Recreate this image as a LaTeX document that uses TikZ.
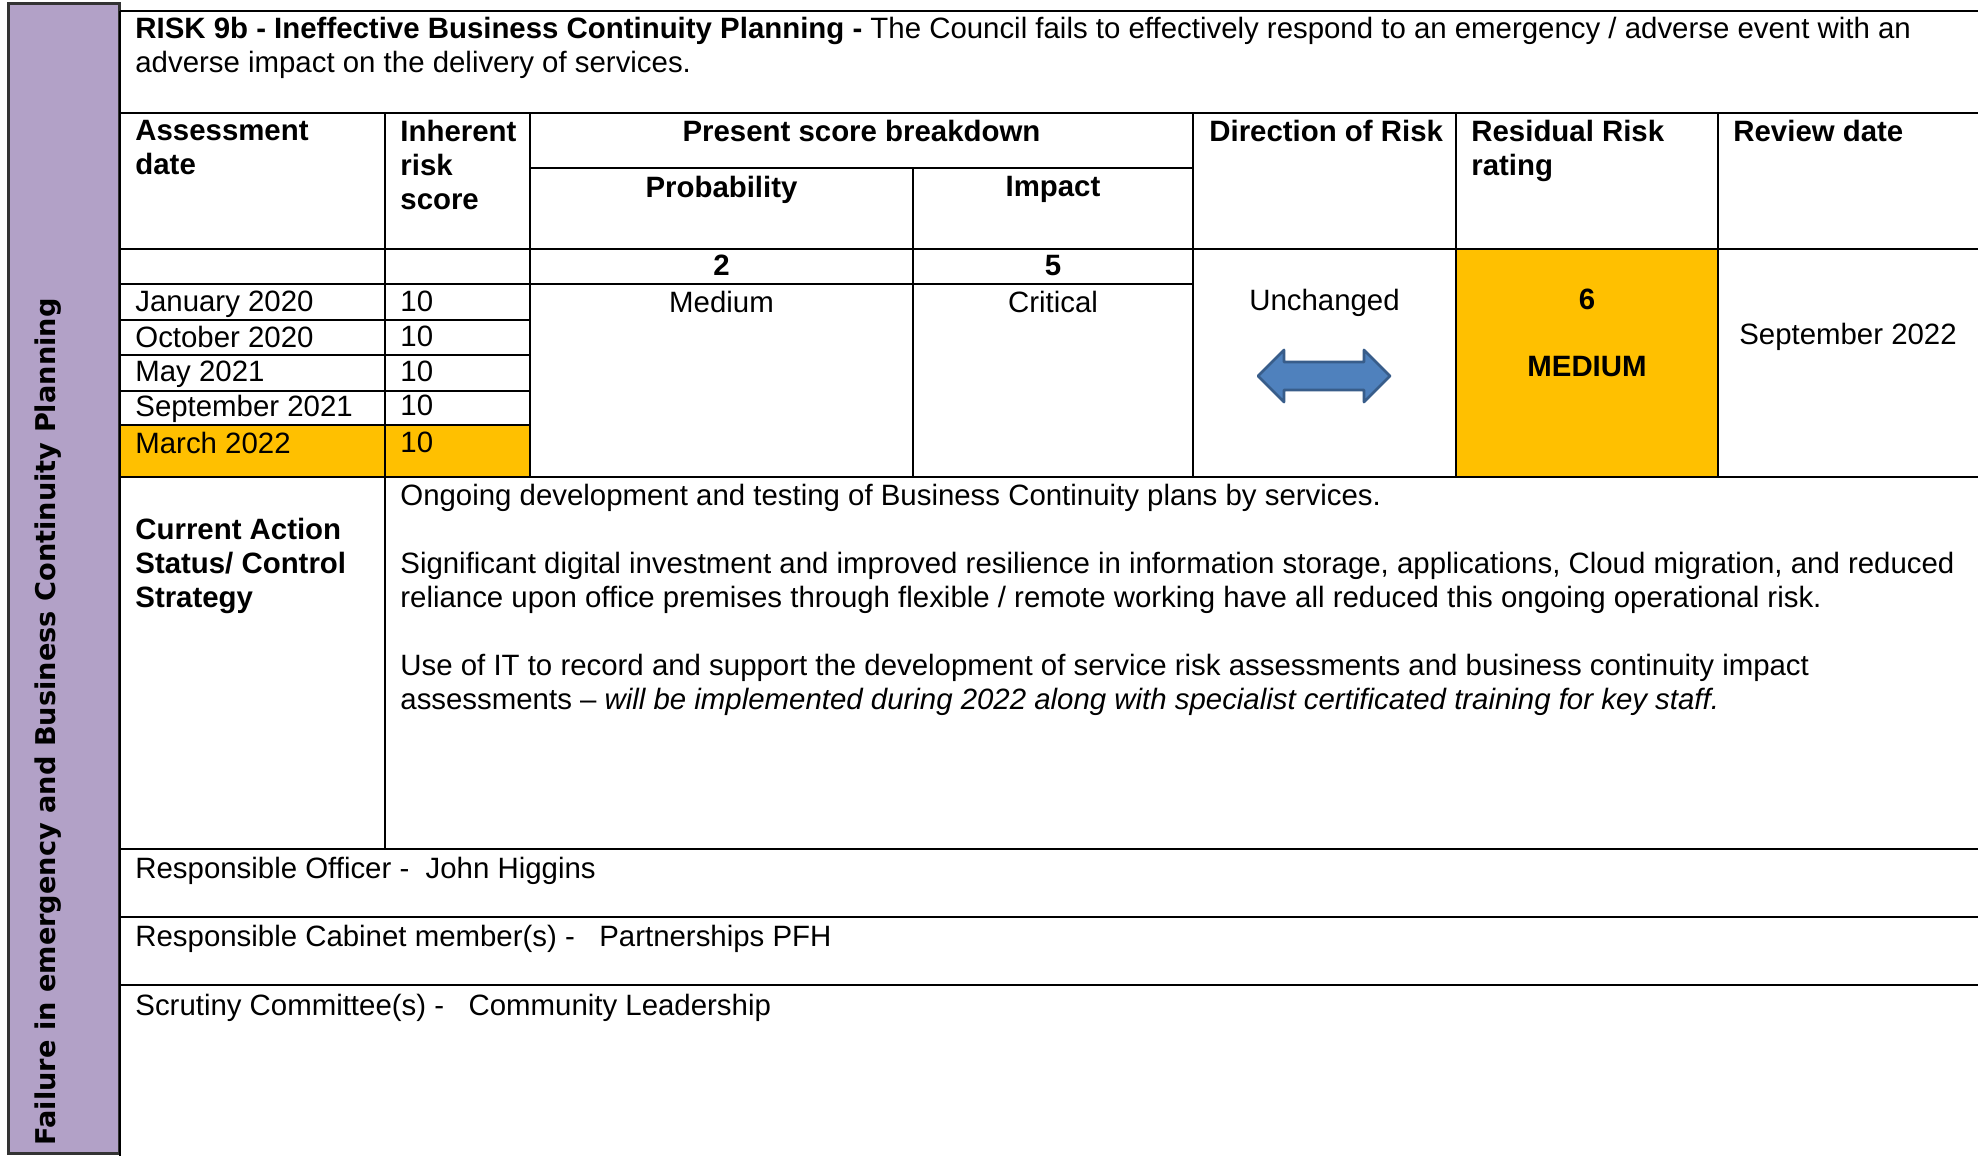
\documentclass[tikz,border=0pt]{standalone}
\usepackage{fontspec}
\setmainfont{Liberation Sans}
\newfontfamily\sidefont{DejaVu Sans}
\usetikzlibrary{shapes,arrows}
\definecolor{barpurple}{HTML}{B2A1C7}
\definecolor{ragamber}{HTML}{FFC000}
\definecolor{arrowblue}{HTML}{4F81BD}
\definecolor{arrowedge}{HTML}{385D8A}
\tikzstyle{txt} = [inner sep=0pt, anchor=north west, align=left,
    font=\fontsize{14.7}{17}\selectfont]
\tikzstyle{hdr} = [txt, font=\fontsize{14.7}{17}\selectfont\bfseries]
\tikzstyle{ctr} = [txt, anchor=north, align=center]
\tikzstyle{rule} = [draw, line width=1.2pt]

\begin{document}
\begin{tikzpicture}[x=0.5pt, y=-0.5pt]
	    \useasboundingbox (0,0) rectangle (1978,1156);
	    % Fills
	    \fill [white] (0,0) rectangle (1978,1156);
	    \fill [ragamber] (120,425) rectangle (530,477);
	    \fill [ragamber] (1456,249) rectangle (1718,477);
	    \filldraw [fill=barpurple, draw=black!80, line width=1.5pt] (8,4) rectangle (119,1153);
	    % Table rules
	    \path [rule] (120,11) -- (1978,11);
	    \path [rule] (120,11) -- (120,1156);
	    \path [rule] (120,113) -- (1978,113);
	    \path [rule] (530,168) -- (1193,168);
	    \path [rule] (120,249) -- (1978,249);
	    \path [rule] (120,284) -- (1193,284);
	    \path [rule] (120,320) -- (530,320);
	    \path [rule] (120,355) -- (530,355);
	    \path [rule] (120,391) -- (530,391);
	    \path [rule] (120,425) -- (530,425);
	    \path [rule] (120,477) -- (1978,477);
	    \path [rule] (120,849) -- (1978,849);
	    \path [rule] (120,917) -- (1978,917);
	    \path [rule] (120,985) -- (1978,985);
	    \path [rule] (385,113) -- (385,849);
	    \path [rule] (530,113) -- (530,477);
	    \path [rule] (913,168) -- (913,477);
	    \path [rule] (1193,113) -- (1193,477);
	    \path [rule] (1456,113) -- (1456,477);
	    \path [rule] (1718,113) -- (1718,477);
	    % Side label
	    \node [inner sep=0pt, anchor=west, rotate=90, font=\sidefont\fontsize{13.6}{16}\selectfont\bfseries]
	        (sidelabel) at (48,1146) {Failure in emergency and Business Continuity Planning};
	    % Title
	    \node [txt] (title) at (135,17) {\textbf{RISK 9b - Ineffective Business Continuity Planning -} The Council fails to effectively respond to an emergency / adverse event with an\\adverse impact on the delivery of services.};
	    % Header cells
	    \node [hdr] (assess) at (135,120) {Assessment\\date};
	    \node [hdr] (inherent) at (400,120) {Inherent\\risk\\score};
	    \node [hdr, anchor=north] (present) at (861.5,120) {Present score breakdown};
	    \node [hdr, anchor=north] (prob) at (721.5,176) {Probability};
	    \node [hdr, anchor=north] (impact) at (1053,176) {Impact};
	    \node [hdr] (direction) at (1209,120) {Direction of Risk};
	    \node [hdr] (residual) at (1471,120) {Residual Risk\\rating};
	    \node [hdr] (review) at (1733,120) {Review date};
	    \node [hdr, anchor=north] (probscore) at (721.5,255) {2};
	    \node [hdr, anchor=north] (impscore) at (1053,255) {5};
	    % Assessment rows
	    \node [txt] (jan20) at (135,290.5) {January 2020};
	    \node [txt] (oct20) at (135,326) {October 2020};
	    \node [txt] (may21) at (135,361) {May 2021};
	    \node [txt] (sep21) at (135,395) {September 2021};
	    \node [txt] (mar22) at (135,432) {March 2022};
	    \node [txt] (jan20score) at (400,290.5) {10};
	    \node [txt] (oct20score) at (400,326) {10};
	    \node [txt] (may21score) at (400,361) {10};
	    \node [txt] (sep21score) at (400,395) {10};
	    \node [txt] (mar22score) at (400,432) {10};
	    \node [ctr] (problevel) at (721.5,290.5) {Medium};
	    \node [ctr] (implevel) at (1053,290.5) {Critical};
	    \node [ctr] (unchanged) at (1324.5,289) {Unchanged};
	    \node [hdr, anchor=north] (resscore) at (1587,289) {6};
	    \node [hdr, anchor=north] (reslevel) at (1587,356) {MEDIUM};
	    \node [ctr] (reviewdate) at (1848,323) {September 2022};
	    % Direction arrow
	    \filldraw [fill=arrowblue, draw=arrowedge, line width=1.4pt, line join=round]
	        (1258,376) -- (1284,350) -- (1284,362) -- (1364,362) -- (1364,350) -- (1390,376)
	        -- (1364,402) -- (1364,390) -- (1284,390) -- (1284,402) -- cycle;
	    % Control strategy
	    \node [hdr] (action) at (135,517.6) {Current Action\\Status/ Control\\Strategy};
	    \node [txt] (actiontext) at (400,483.5) {Ongoing development and testing of Business Continuity plans by services.\\[17pt]
	        Significant digital investment and improved resilience in information storage, applications, Cloud migration, and reduced\\
	        reliance upon office premises through flexible / remote working have all reduced this ongoing operational risk.\\[17pt]
	        Use of IT to record and support the development of service risk assessments and business continuity impact\\
	        assessments -- \textit{will be implemented during 2022 along with specialist certificated training for key staff.}};
	    % Owners
	    \node [txt] (officer) at (135,857) {Responsible Officer -~~John Higgins};
	    \node [txt] (cabinet) at (135,925) {Responsible Cabinet member(s) -~~~Partnerships PFH};
	    \node [txt] (scrutiny) at (135,994) {Scrutiny Committee(s) -~~~Community Leadership};
	\end{tikzpicture}
\end{document}
